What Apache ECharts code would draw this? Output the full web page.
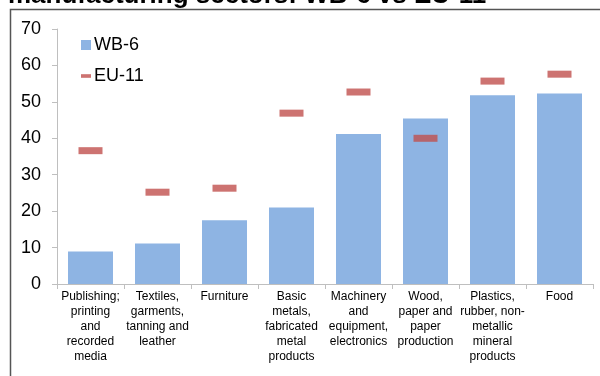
<!DOCTYPE html>
<html>
<head>
<meta charset="utf-8">
<script src="https://cdn.jsdelivr.net/npm/echarts@6/dist/echarts.min.js"></script>
<style>
  html, body { margin: 0; padding: 0; background: #fff; }
  #chart { width: 600px; height: 376px; }
</style>
</head>
<body>
<div id="chart"></div>
<script>
const categories = [
  "Publishing;\nprinting\nand\nrecorded\nmedia",
  "Textiles,\ngarments,\ntanning and\nleather",
  "Furniture",
  "Basic\nmetals,\nfabricated\nmetal\nproducts",
  "Machinery\nand\nequipment,\nelectronics",
  "Wood,\npaper and\npaper\nproduction",
  "Plastics,\nrubber, non-\nmetallic\nmineral\nproducts",
  "Food"
];
const wb6 = [8.9, 11.1, 17.5, 21.0, 41.2, 45.4, 51.8, 52.3];
const eu11 = [36.6, 25.2, 26.3, 46.9, 52.7, 40.0, 55.7, 57.6];
const yTicks = [0, 10, 20, 30, 40, 50, 60, 70];

const FONT = "Liberation Sans, Arial, sans-serif";
const chart = echarts.init(document.getElementById("chart"));

chart.setOption({
  animation: false,
  textStyle: { fontFamily: FONT, color: "#000" },
  graphic: [
    {
      type: "text",
      left: 8,
      top: -17,
      style: {
        text: "manufacturing sectors: WB-6 vs EU-11",
        font: "bold 26px " + FONT,
        fill: "#000"
      },
      silent: true
    },
    {
      type: "rect",
      shape: { x: 10.5, y: 9.5, width: 700, height: 500 },
      style: { fill: "#fff", stroke: "#555", lineWidth: 1.5 },
      z: -10,
      silent: true
    }
  ],
  legend: {
    orient: "vertical",
    left: 76,
    top: 31,
    itemGap: 13,
    itemWidth: 10,
    itemHeight: 10,
    textStyle: { fontSize: 18, color: "#000", fontFamily: FONT, padding: [0, 0, 0, -2] },
    data: [
      { name: "WB-6", icon: "rect" },
      { name: "EU-11", icon: "path://M0,0H11V4H0Z" }
    ]
  },
  grid: { left: 57, right: 7, top: 29, bottom: 92 },
  xAxis: {
    type: "category",
    data: categories,
    axisLine: { lineStyle: { color: "#BFBFBF", width: 1 } },
    axisTick: { show: true, length: 5, lineStyle: { color: "#BFBFBF" } },
    axisLabel: {
      interval: 0,
      fontSize: 12,
      lineHeight: 15,
      color: "#000",
      margin: 5,
      align: "center"
    }
  },
  yAxis: {
    type: "value",
    min: yTicks[0],
    max: yTicks[yTicks.length - 1],
    interval: 10,
    axisLine: { show: true, lineStyle: { color: "#BFBFBF" } },
    axisTick: { show: true, length: 5, lineStyle: { color: "#BFBFBF" } },
    splitLine: { show: false },
    axisLabel: { fontSize: 18, color: "#000", margin: 16 }
  },
  series: [
    {
      name: "WB-6",
      type: "bar",
      data: wb6,
      barWidth: 45,
      itemStyle: { color: "#8EB4E3" }
    },
    {
      name: "EU-11",
      type: "scatter",
      data: eu11,
      symbol: "rect",
      symbolSize: [24, 7],
      itemStyle: { color: "#C0504D" },
      z: 3
    }
  ]
});
</script>
</body>
</html>
